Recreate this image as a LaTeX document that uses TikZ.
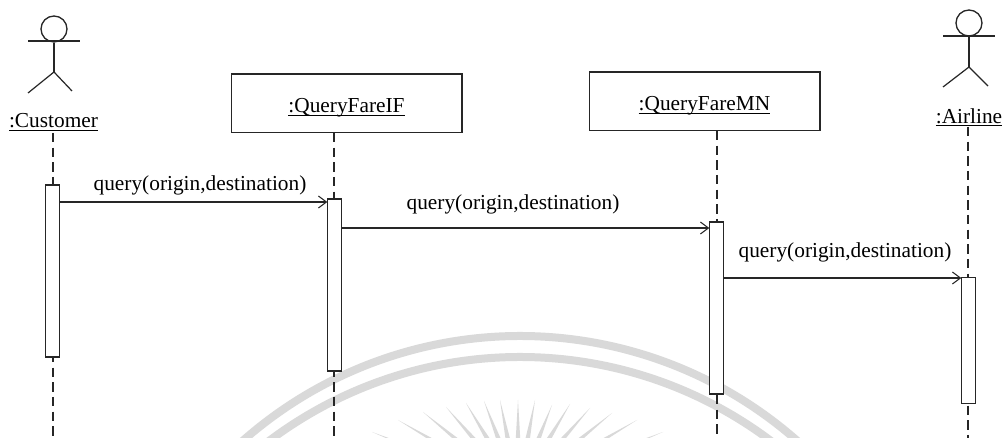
\documentclass[tikz,border=0pt]{standalone}
\usepackage{fontspec}
\setmainfont{Liberation Serif}
\usetikzlibrary{arrows.meta,calc}
\newcommand{\ultext}[1]{\setbox0=\hbox{#1}\rlap{\rule[-2.2pt]{\wd0}{0.8pt}}\box0}
\tikzset{
 x=0.75pt,y=-0.75pt,
 ink/.style={draw=black!85,line width=0.9pt},
 lifeline/.style={draw=black!85,line width=0.8pt,dash pattern=on 7pt off 4pt},
 objbox/.style={draw=black!85,line width=1pt,fill=white,minimum width=173pt,minimum height=44pt,inner sep=0pt,font=\fontsize{16pt}{18pt}\selectfont},
 actorname/.style={inner sep=0pt,anchor=base,font=\fontsize{16pt}{18pt}\selectfont},
 activation/.style={draw=black!85,line width=0.8pt,fill=white,minimum width=10pt,inner sep=0pt},
 msg/.style={draw=black!85,line width=0.8pt,-{Straight Barb[length=6pt,width=9pt]}},
 msgtext/.style={inner sep=0pt,anchor=base,font=\fontsize{16pt}{18pt}\selectfont},
 wm/.style={draw=black!15,line width=6pt},
 ray/.style={fill=black!15,draw=none},
}
\begin{document}
\begin{tikzpicture}
\useasboundingbox (0,0) rectangle (1004,438);
\fill[white] (0,0) rectangle (1004,438);
% watermark
\begin{scope}
\clip (0,0) rectangle (1004,438);
\draw[wm] (520,755) ++(-140:419) arc[start angle=-140,end angle=-40,radius=419];
\draw[wm] (520,774) ++(-140:417) arc[start angle=-140,end angle=-40,radius=417];
\coordinate (wc) at (518,490);
\foreach \tx/\ty in {518/400,535/400,552/405,570/404,590/408,612/413,637/420,663/432,500/400,484/401,466/403,446/407,423/412,398/420,372/432}{
 \coordinate (tip) at (\tx,\ty);
 \coordinate (base) at ($(tip)!0.9!(wc)$);
 \fill[ray] (tip) -- ($(base)!3.5pt!90:(tip)$) -- ($(base)!3.5pt!-90:(tip)$) -- cycle;
}
\end{scope}
% objects
\node[objbox] (qif) at (346.5,103.5) {\raisebox{-7.1pt}[0pt][0pt]{\ultext{:QueryFareIF}}};
\node[objbox] (qmn) at (704.5,101.5) {\raisebox{-6.9pt}[0pt][0pt]{\ultext{:QueryFareMN}}};
\node[actorname] (cust) at (53.5,128) {\ultext{:Customer}};
\node[actorname] (air) at (969,123.3) {\ultext{:Airline}};
% lifelines
\coordinate (l1t) at (53,133); \coordinate (l1b) at (53,438);
\coordinate (l2t) at (334,133); \coordinate (l2b) at (334,438);
\coordinate (l3t) at (717,131); \coordinate (l3b) at (717,438);
\coordinate (l4t) at (968,127); \coordinate (l4b) at (968,438);
\draw[lifeline] (l1t) -- (l1b);
\draw[lifeline] (l2t) -- (l2b);
\draw[lifeline] (l3t) -- (l3b);
\draw[lifeline] (l4t) -- (l4b);
% activations
\node[activation,minimum height=129pt] (a1) at (52.5,271) {};
\node[activation,minimum height=129pt] (a2) at (334.5,285) {};
\node[activation,minimum height=129pt] (a3) at (716.5,308) {};
\node[activation,minimum height=95pt] (a4) at (968.5,340.5) {};
% messages
\coordinate (m1s) at (a1.east |- 0,202); \coordinate (m1e) at (a2.west |- 0,202);
\coordinate (m2s) at (a2.east |- 0,228); \coordinate (m2e) at (a3.west |- 0,228);
\coordinate (m3s) at (a3.east |- 0,278); \coordinate (m3e) at (a4.west |- 0,278);
\draw[msg] (m1s) -- (m1e);
\draw[msg] (m2s) -- (m2e);
\draw[msg] (m3s) -- (m3e);
\node[msgtext] (t1) at (200,190.5) {query(origin,destination)};
\node[msgtext] (t2) at (513,209.5) {query(origin,destination)};
\node[msgtext] (t3) at (845,258) {query(origin,destination)};
% actors
\node[draw=black!85,line width=1pt,circle,minimum size=19.5pt,inner sep=0pt,fill=white] (h1) at (54,29) {};
\draw[ink] (28,41) -- (80,41);
\coordinate (b1) at (54,72);
\draw[ink] (h1.south) -- (b1);
\draw[ink] (28,93) -- (b1) -- (72,91);
\node[draw=black!85,line width=1pt,circle,minimum size=19.5pt,inner sep=0pt,fill=white] (h2) at (969,23) {};
\draw[ink] (943,36) -- (995,36);
\coordinate (b2) at (969,67);
\draw[ink] (h2.south) -- (b2);
\draw[ink] (943,87) -- (b2) -- (988,86);
\end{tikzpicture}
\end{document}
